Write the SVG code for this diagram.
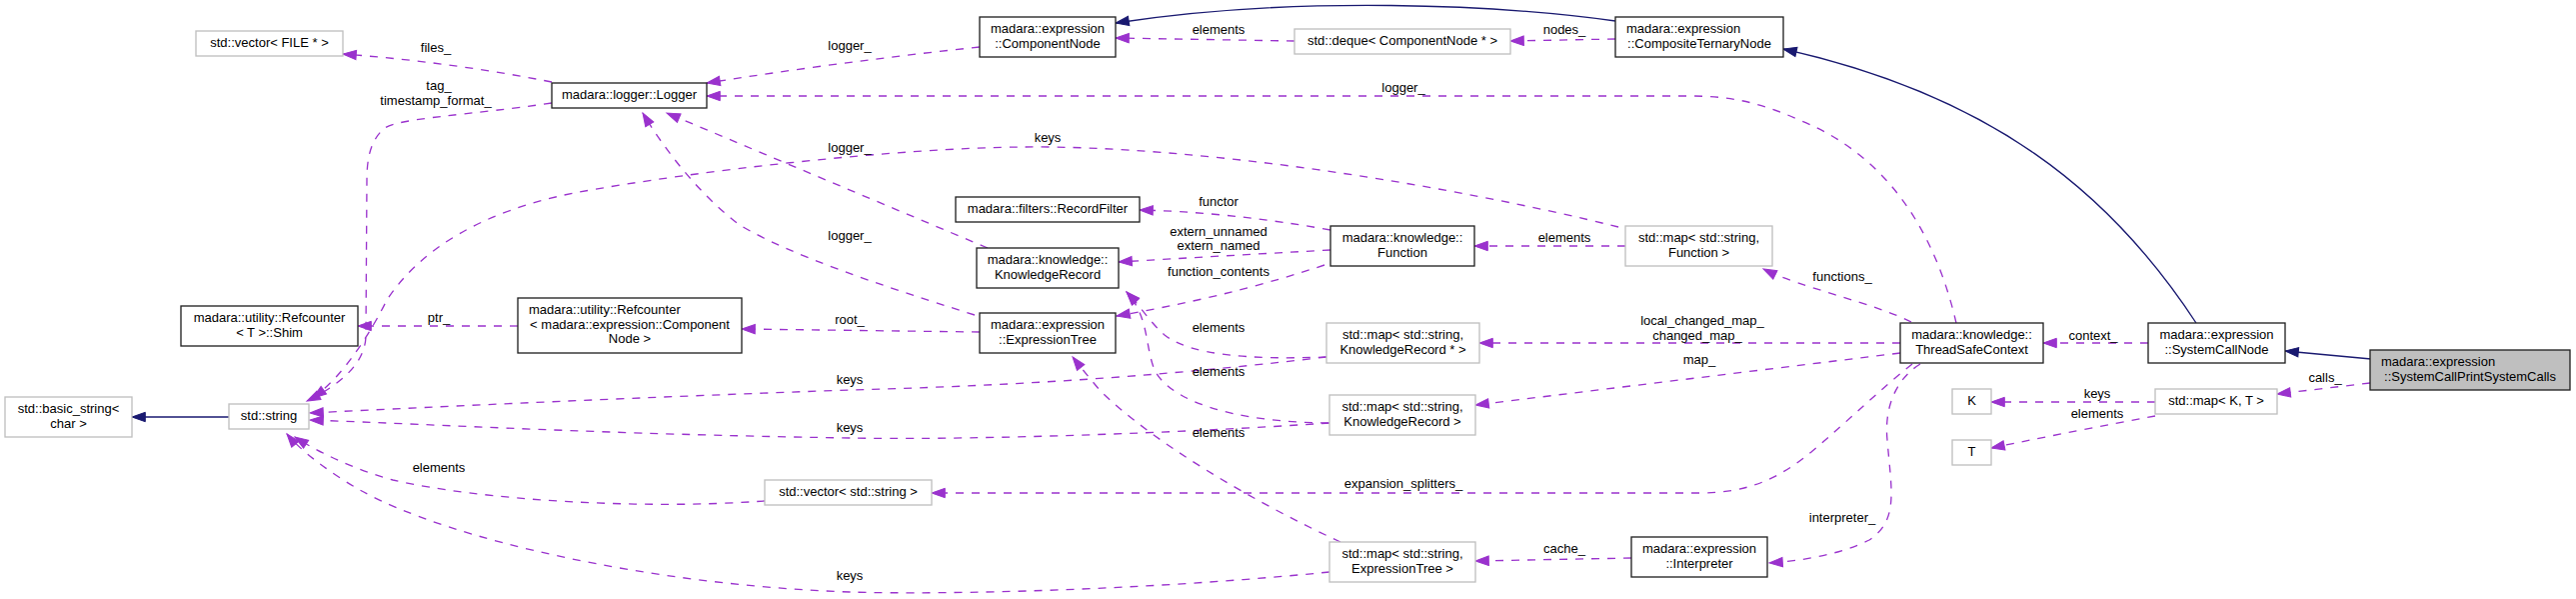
<svg xmlns="http://www.w3.org/2000/svg" width="2577" height="599" viewBox="0 0 2577 599">
<style>
text{font-family:"Liberation Sans",Arial,Helvetica,sans-serif;font-size:13px;fill:#000}
.c{text-anchor:middle}
.s{text-anchor:start}
.bd{fill:#fff;stroke:#222;stroke-width:1.33}
.bg{fill:#fff;stroke:#bfbfbf;stroke-width:1.33}
.bf{fill:#bfbfbf;stroke:#222;stroke-width:1.33}
.e{fill:none;stroke:#9a32cd;stroke-width:1.33;stroke-dasharray:8,8;marker-end:url(#ap)}
.i{fill:none;stroke:#191970;stroke-width:1.33;marker-end:url(#ab)}
</style>
<defs>
<marker id="ap" markerUnits="userSpaceOnUse" markerWidth="14" markerHeight="10" refX="13.3" refY="4.67" orient="auto" overflow="visible"><path d="M0,0 L13.3,4.67 L0,9.33 Z" fill="#9a32cd" stroke="#9a32cd" stroke-width="1"/></marker>
<marker id="ab" markerUnits="userSpaceOnUse" markerWidth="14" markerHeight="10" refX="13.3" refY="4.67" orient="auto" overflow="visible"><path d="M0,0 L13.3,4.67 L0,9.33 Z" fill="#191970" stroke="#191970" stroke-width="1"/></marker>
</defs>
<rect width="2577" height="599" fill="#fff"/>
<g id="edges">
<path class="e" d="M552,82 Q450,62 343,54"/>
<path class="e" d="M552,103 C470,115 400,118 385,128 C370,140 367,160 367,180 L366,335 C366,362 342,384 307,401"/>
<path class="e" d="M1619,227 C1450,185 1200,145 1022,147 C900,148 700,170 574,193 C480,212 420,250 387,300 C372,330 345,375 313,398"/>
<path class="e" d="M518,326 L358,326"/>
<path class="e" d="M980,332 L742,329"/>
<path class="i" d="M229,417 L132,417"/>
<path class="e" d="M1327,357 C1150,378 1000,386 850,390 C650,397 450,406 310,413"/>
<path class="e" d="M1330,423 C1150,435 950,440 850,438 C600,434 450,425 310,420"/>
<path class="e" d="M765,501 C640,510 480,500 393,480 C350,468 315,450 295,437"/>
<path class="e" d="M1330,572 C1150,590 950,595 850,592 C650,585 450,540 360,490 C330,473 300,450 287,434"/>
<path class="e" d="M1331,230 Q1230,212 1140,210"/>
<path class="e" d="M1331,250 Q1220,256 1119,262"/>
<path class="e" d="M1325,265 C1250,290 1180,305 1117,316"/>
<path class="e" d="M1626,246 L1475,246"/>
<path class="e" d="M1327,357 C1250,360 1190,355 1165,335 C1150,322 1140,305 1127,292"/>
<path class="e" d="M1329,423 C1230,422 1170,400 1155,370 C1145,345 1150,318 1127,292"/>
<path class="e" d="M1341,542 C1250,500 1150,440 1100,390 C1090,378 1080,366 1073,357"/>
<path class="e" d="M980,47 Q840,62 707,83"/>
<path class="e" d="M1957,323 C1940,250 1900,160 1800,120 C1760,102 1730,96 1690,96 L707,96"/>
<path class="e" d="M988,248 L667,113"/>
<path class="e" d="M975,315 C880,285 790,255 740,225 C700,195 665,150 643,113"/>
<path class="e" d="M1912,322 C1880,305 1800,287 1764,269"/>
<path class="e" d="M1901,343 L1480,343"/>
<path class="e" d="M1901,353 L1476,405"/>
<path class="e" d="M1913,364 C1880,390 1850,420 1812,452 C1780,478 1750,493 1700,493 L932,493"/>
<path class="e" d="M1921,364 C1895,380 1885,410 1888,440 C1892,490 1900,520 1870,540 C1840,555 1800,561 1770,563"/>
<path class="e" d="M1632,558 L1476,561"/>
<path class="e" d="M2149,343 L2044,343"/>
<path class="i" d="M2197,323 C2110,190 1990,95 1784,49"/>
<path class="i" d="M1616,21 C1500,5 1300,-5 1116,23"/>
<path class="e" d="M1616,39 L1511,41"/>
<path class="e" d="M1295,41 L1116,38"/>
<path class="i" d="M2372,359 L2286,351"/>
<path class="e" d="M2371,383 L2278,394"/>
<path class="e" d="M2156,402 L1992,402"/>
<path class="e" d="M2156,416 Q2080,430 1992,448"/>
</g>
<g id="edge-labels">
<text class="c" x="436" y="52">files_</text>
<text class="c" x="439" y="90">tag_</text>
<text class="c" x="436" y="105">timestamp_format_</text>
<text class="c" x="850" y="50">logger_</text>
<text class="c" x="850" y="152">logger_</text>
<text class="c" x="850" y="240">logger_</text>
<text class="c" x="1404" y="92">logger_</text>
<text class="c" x="1219" y="34">elements</text>
<text class="c" x="1565" y="34">nodes_</text>
<text class="c" x="1048" y="142">keys</text>
<text class="c" x="1219" y="206">functor</text>
<text class="c" x="1219" y="236">extern_unnamed</text>
<text class="c" x="1219" y="250">extern_named</text>
<text class="c" x="1219" y="276">function_contents</text>
<text class="c" x="1565" y="242">elements</text>
<text class="c" x="1843" y="281">functions_</text>
<text class="c" x="439" y="322">ptr_</text>
<text class="c" x="850" y="324">root_</text>
<text class="c" x="850" y="384">keys</text>
<text class="c" x="850" y="432">keys</text>
<text class="c" x="439" y="472">elements</text>
<text class="c" x="850" y="580">keys</text>
<text class="c" x="1219" y="332">elements</text>
<text class="c" x="1219" y="376">elements</text>
<text class="c" x="1219" y="437">elements</text>
<text class="c" x="1703" y="325">local_changed_map_</text>
<text class="c" x="1698" y="340">changed_map_</text>
<text class="c" x="1700" y="364">map_</text>
<text class="c" x="1404" y="488">expansion_splitters_</text>
<text class="c" x="1565" y="553">cache_</text>
<text class="c" x="1843" y="522">interpreter_</text>
<text class="c" x="2094" y="340">context_</text>
<text class="c" x="2326" y="382">calls_</text>
<text class="c" x="2098" y="398">keys</text>
<text class="c" x="2098" y="418">elements</text>
</g>
<g id="n_vector_file"><rect class="bg" x="196" y="31" width="147" height="25"/><text class="c" x="269.5" y="47">std::vector&lt; FILE * &gt;</text></g>
<g id="n_logger"><rect class="bd" x="552" y="83" width="155" height="25"/><text class="c" x="629.5" y="99">madara::logger::Logger</text></g>
<g id="n_componentnode"><rect class="bd" x="980" y="17" width="136" height="40"/><text class="c" x="1048" y="33">madara::expression</text><text class="c" x="1048" y="47.7">::ComponentNode</text></g>
<g id="n_deque"><rect class="bg" x="1295" y="29" width="216" height="25"/><text class="c" x="1403" y="45">std::deque&lt; ComponentNode * &gt;</text></g>
<g id="n_compositeternary"><rect class="bd" x="1616" y="17" width="168" height="40"/><text class="s" x="1627" y="33">madara::expression</text><text class="c" x="1700" y="47.7">::CompositeTernaryNode</text></g>
<g id="n_recordfilter"><rect class="bd" x="956" y="197" width="184" height="25"/><text class="c" x="1048" y="213">madara::filters::RecordFilter</text></g>
<g id="n_knowledgerecord"><rect class="bd" x="977" y="248" width="142" height="40"/><text class="c" x="1048" y="264">madara::knowledge::</text><text class="c" x="1048" y="278.7">KnowledgeRecord</text></g>
<g id="n_function"><rect class="bd" x="1331" y="226" width="144" height="40"/><text class="c" x="1403" y="242">madara::knowledge::</text><text class="c" x="1403" y="256.7">Function</text></g>
<g id="n_map_function"><rect class="bg" x="1626" y="226" width="147" height="40"/><text class="c" x="1699.5" y="242">std::map&lt; std::string,</text><text class="c" x="1699.5" y="256.7">Function &gt;</text></g>
<g id="n_expressiontree"><rect class="bd" x="980" y="313" width="136" height="40"/><text class="c" x="1048" y="329">madara::expression</text><text class="c" x="1048" y="343.7">::ExpressionTree</text></g>
<g id="n_map_krptr"><rect class="bg" x="1327" y="323" width="153" height="40"/><text class="c" x="1403.5" y="339">std::map&lt; std::string,</text><text class="c" x="1403.5" y="353.7">KnowledgeRecord * &gt;</text></g>
<g id="n_map_kr"><rect class="bg" x="1330" y="395" width="146" height="40"/><text class="c" x="1403" y="411">std::map&lt; std::string,</text><text class="c" x="1403" y="425.7">KnowledgeRecord &gt;</text></g>
<g id="n_vector_string"><rect class="bg" x="765" y="480" width="167" height="25"/><text class="c" x="848.5" y="496">std::vector&lt; std::string &gt;</text></g>
<g id="n_map_exprtree"><rect class="bg" x="1330" y="542" width="146" height="40"/><text class="c" x="1403" y="558">std::map&lt; std::string,</text><text class="c" x="1403" y="572.7">ExpressionTree &gt;</text></g>
<g id="n_interpreter"><rect class="bd" x="1632" y="537" width="136" height="40"/><text class="c" x="1700" y="553">madara::expression</text><text class="c" x="1700" y="567.7">::Interpreter</text></g>
<g id="n_shim"><rect class="bd" x="181" y="306" width="177" height="40"/><text class="c" x="269.5" y="322">madara::utility::Refcounter</text><text class="c" x="269.5" y="336.7">&lt; T &gt;::Shim</text></g>
<g id="n_refcounter_cn"><rect class="bd" x="518" y="298" width="224" height="55"/><text class="s" x="529" y="314">madara::utility::Refcounter</text><text class="c" x="630" y="328.7">&lt; madara::expression::Component</text><text class="c" x="630" y="343.3">Node &gt;</text></g>
<g id="n_basic_string"><rect class="bg" x="5" y="397" width="127" height="40"/><text class="c" x="68.5" y="413">std::basic_string&lt;</text><text class="c" x="68.5" y="427.7">char &gt;</text></g>
<g id="n_string"><rect class="bg" x="229" y="404" width="80" height="25"/><text class="c" x="269" y="420">std::string</text></g>
<g id="n_threadsafecontext"><rect class="bd" x="1901" y="323" width="143" height="40"/><text class="c" x="1972.5" y="339">madara::knowledge::</text><text class="c" x="1972.5" y="353.7">ThreadSafeContext</text></g>
<g id="n_systemcallnode"><rect class="bd" x="2149" y="323" width="137" height="40"/><text class="c" x="2217.5" y="339">madara::expression</text><text class="c" x="2217.5" y="353.7">::SystemCallNode</text></g>
<g id="n_systemcallprint"><rect class="bf" x="2371" y="350" width="200" height="40"/><text class="s" x="2382" y="366">madara::expression</text><text class="c" x="2471" y="380.7">::SystemCallPrintSystemCalls</text></g>
<g id="n_map_kt"><rect class="bg" x="2156" y="389" width="122" height="25"/><text class="c" x="2217" y="405">std::map&lt; K, T &gt;</text></g>
<g id="n_k"><rect class="bg" x="1953" y="389" width="39" height="25"/><text class="c" x="1972.5" y="405">K</text></g>
<g id="n_t"><rect class="bg" x="1953" y="440" width="39" height="25"/><text class="c" x="1972.5" y="456">T</text></g>
</svg>
